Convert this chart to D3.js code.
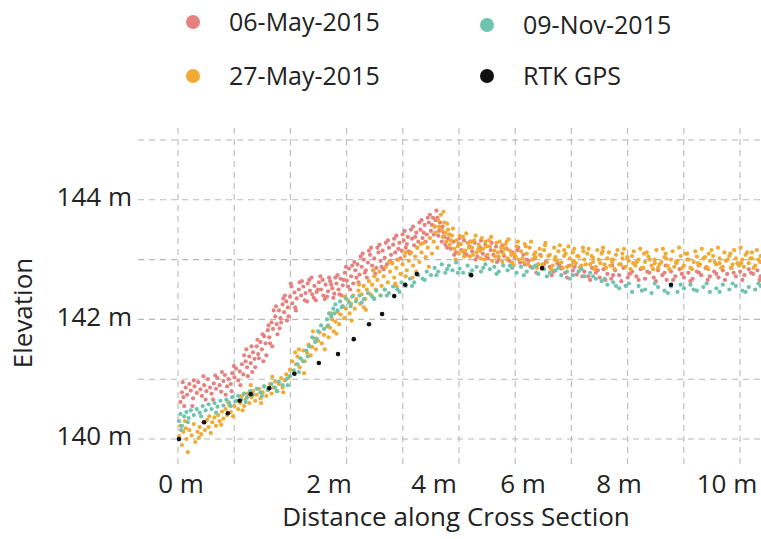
<!DOCTYPE html>
<html>
<head>
<meta charset="utf-8">
<script src="https://cdn.jsdelivr.net/npm/d3@7"></script>
<style>
  body { margin: 0; background: #fff; }
  text { font-family: "Open Sans", "Noto Sans", sans-serif; fill: #222; }
</style>
</head>
<body>
<svg id="chart" width="761" height="539"></svg>
<script>
// series names + colours
const seriesNames = ["06-May-2015", "27-May-2015", "09-Nov-2015", "RTK GPS"];
const seriesColors = ["#e5827f", "#f1aa33", "#6fc4b0", "#111111"];

// tick values
const xTicks = [0, 2, 4, 6, 8, 10];
const yTicks = [140, 142, 144];

// [distance (m), elevation (m)]
const may06 = [
  [0.02,140.62],[0.04,140.78],[0.06,140.7],[0.09,140.86],[0.11,140.74],[0.14,140.92],[0.16,140.81],[0.19,140.68],[0.21,140.88],[0.24,140.77],
  [0.26,140.95],[0.29,140.83],[0.31,140.72],[0.34,140.9],[0.37,140.8],[0.39,141.0],[0.42,140.86],[0.44,140.76],[0.47,140.93],[0.5,140.84],
  [0.52,141.02],[0.55,140.9],[0.57,140.79],[0.6,140.97],[0.62,141.07],[0.65,140.88],[0.67,141.0],[0.7,140.92],[0.72,141.1],[0.75,141.03],
  [0.77,141.18],[0.8,140.98],[0.82,141.13],[0.85,141.25],[0.87,141.08],[0.9,141.3],[0.92,141.2],[0.95,141.38],[0.97,141.27],[1.0,141.45],
  [1.02,141.34],[1.05,141.55],[1.07,141.42],[1.1,141.62],[1.12,141.5],[1.15,141.72],[1.17,141.6],[1.2,141.82],[1.22,141.7],[1.25,141.95],
  [1.27,141.84],[1.3,142.05],[1.32,141.92],[1.35,142.15],[1.37,142.02],[1.4,142.25],[1.42,142.12],[1.45,142.3],[1.47,142.2],[1.5,142.38],
  [1.53,142.27],[1.56,142.45],[1.59,142.35],[1.62,142.5],[1.65,142.4],[1.68,142.55],[1.71,142.44],[1.74,142.6],[1.77,142.48],[1.8,142.42],
  [1.83,142.56],[1.86,142.46],[1.89,142.62],[1.92,142.5],[1.95,142.4],[1.98,142.58],[2.02,142.47],[2.06,142.64],[2.1,142.52],[2.14,142.43],
  [2.18,142.6],[2.22,142.5],[2.26,142.68],[2.3,142.57],[2.34,142.78],[2.38,142.65],[2.42,142.85],[2.46,142.72],[2.5,142.6],[2.54,142.82],
  [2.58,142.92],[2.62,142.75],[2.66,142.88],[2.7,143.0],[2.74,142.82],[2.78,142.95],[2.82,143.08],[2.86,142.9],[2.9,143.02],[2.94,142.86],
  [2.98,143.12],[3.02,142.98],[3.06,143.15],[3.1,143.03],[3.14,142.92],[3.18,143.2],[3.22,143.08],[3.26,143.25],[3.3,143.12],[3.34,143.0],
  [3.38,143.28],[3.42,143.15],[3.46,143.32],[3.5,143.2],[3.54,143.38],[3.58,143.1],[3.62,143.35],[3.66,143.24],[3.7,143.45],[3.74,143.3],
  [3.78,143.5],[3.82,143.36],[3.86,143.58],[3.9,143.42],[3.94,143.62],[3.98,143.48],[4.02,143.7],[4.06,143.55],[4.1,143.82],[4.14,143.4],
  [4.18,143.62],[4.22,143.3],[4.26,143.45],[4.3,143.25],[4.36,143.35],[4.42,143.18],[4.48,143.3],[4.54,143.12],[4.6,143.26],[4.66,143.16],
  [4.72,143.32],[4.78,143.08],[4.84,143.22],[4.9,143.14],[4.96,143.28],[5.02,143.05],[5.08,143.2],[5.14,143.1],[5.2,143.25],[5.26,143.02],
  [5.32,143.16],[5.38,143.08],[5.44,143.22],[5.5,143.0],[5.56,143.14],[5.62,143.06],[5.68,143.18],[5.74,142.98],[5.8,143.12],[5.86,143.04],
  [5.92,143.16],[5.98,142.95],[6.05,143.08],[6.12,143.0],[6.2,142.88],[6.28,143.02],[6.36,142.92],[6.44,142.84],[6.52,142.97],[6.6,142.88],
  [6.68,142.8],[6.76,142.94],[6.84,142.85],[6.92,142.78],[7.0,142.9],[7.08,142.82],[7.16,142.75],[7.24,142.88],[7.32,142.8],[7.4,142.72],
  [7.48,142.86],[7.56,142.78],[7.64,142.7],[7.72,142.84],[7.8,142.76],[7.88,142.68],[7.96,142.82],[8.04,142.74],[8.12,142.86],[8.2,142.7],
  [8.28,142.8],[8.36,142.72],[8.44,142.84],[8.52,142.68],[8.6,142.78],[8.68,142.7],[8.76,142.82],[8.84,142.74],[8.92,142.66],[9.0,142.8],
  [9.08,142.72],[9.16,142.84],[9.24,142.7],[9.32,142.78],[9.4,142.68],[9.48,142.8],[9.56,142.74],[9.64,142.86],[9.72,142.72],[9.8,142.8],
  [9.88,142.7],[9.96,142.82],[10.04,142.76],[10.12,142.86],[10.2,142.72],[10.28,142.8],[10.36,142.74],[10.44,142.84],[10.52,142.76],[10.6,142.82],
  [10.66,142.72],
  [0.88,141.4],[0.93,141.05],[0.98,141.55],[1.03,141.2],[1.08,141.35],[1.13,141.75],[1.18,141.4],[1.23,141.6],[1.28,142.15],[1.33,141.75],
  [1.38,141.95],[1.43,142.4],[1.48,142.05],[1.52,142.55],[1.57,142.2],[1.63,142.62],[1.7,142.32],[1.76,142.66],[1.82,142.36],[1.88,142.5],
  [1.94,142.66],[2.0,142.38],[2.08,142.58],[2.16,142.7],[2.24,142.42],[2.32,142.66],[2.4,142.55],[2.48,142.9],[2.56,142.7],[2.64,143.05],
  [2.72,142.78],[2.8,143.15],[2.88,142.82],[2.96,143.2],[3.04,142.88],[3.12,143.28],[3.2,142.98],[3.28,143.35],[3.36,143.18],[3.44,143.42],
  [3.52,143.26],[3.6,143.5],[3.68,143.38],[3.76,143.62],[3.84,143.45],[3.92,143.7],[4.0,143.58],[4.08,143.66],[4.16,143.48],[4.24,143.55],
  [0.05,140.95],[0.18,140.55],[0.33,141.05],[0.46,140.66],[0.58,141.12],[0.71,140.8],[6.4,143.08],[7.1,142.96],[7.9,142.9],[8.9,142.9],
  [0.07,140.55],[0.2,140.98],[0.36,140.66],[0.49,141.06],[0.63,140.74],[0.74,141.22],[0.83,140.9],[0.91,141.5],[0.99,141.12],[1.06,141.66],
  [1.14,141.3],[1.21,141.9],[1.26,141.55],[1.31,142.22],[1.36,141.85],[1.41,142.35],[1.46,141.98],[1.51,142.6],[1.58,142.15],[1.66,142.64],
  [1.73,142.3],[1.79,142.7],[1.85,142.32],[1.91,142.72],[1.97,142.34],[2.04,142.7],[2.12,142.36],[2.2,142.74],[2.28,142.4],[2.36,142.88],
  [2.44,142.5],[2.52,142.96],[2.6,142.62],[2.68,143.1],[2.76,142.7],[2.84,143.2],[2.92,142.76],[3.0,143.25],[3.08,142.84],[3.16,143.32],
  [3.24,142.94],[3.32,143.4],[3.4,143.02],[3.48,143.48],[3.56,143.14],[3.64,143.55],[3.72,143.2],[3.8,143.66],[3.88,143.3],[3.96,143.75],
  [4.04,143.42],[4.12,143.7],[4.2,143.52],[4.28,143.38],[4.34,143.2],[4.4,143.42],[4.5,143.08],[4.62,143.36],[4.74,143.1],[4.86,143.3],
  [4.98,143.0],[5.1,143.32],[5.22,143.06],[5.34,143.28],[5.46,142.96],[5.58,143.24],[5.7,143.0],[5.82,142.9],[5.94,143.2],[6.08,142.92],
  [6.16,142.98],[6.32,142.78],[6.48,142.92],[6.64,142.74],[6.8,142.9],[6.96,142.7],[7.12,142.88],[7.28,142.72],[7.44,142.66],[7.6,142.82],
  [7.76,142.66],[7.92,142.74],[8.08,142.64],[8.24,142.76],[8.4,142.66],[8.56,142.8],[8.72,142.64],[8.88,142.78],[9.04,142.66],[9.2,142.76],
  [9.36,142.64],[9.52,142.78],[9.68,142.66],[9.84,142.76],[10.0,142.66],[10.16,142.78],[10.32,142.66],[10.48,142.78],[10.64,142.66]
];

const may27 = [
  [0.0,140.05],[0.02,140.22],[0.04,139.9],[0.06,140.12],[0.08,140.3],[0.1,140.0],[0.12,139.78],[0.14,140.15],[0.17,140.06],[0.2,140.25],
  [0.22,139.95],[0.25,140.12],[0.28,140.2],[0.3,140.08],[0.33,140.28],[0.35,140.15],[0.38,140.32],[0.4,140.2],[0.43,140.1],[0.45,140.28],
  [0.48,140.36],[0.5,140.22],[0.53,140.4],[0.55,140.3],[0.58,140.46],[0.6,140.34],[0.63,140.5],[0.65,140.4],[0.68,140.56],[0.7,140.45],
  [0.73,140.38],[0.75,140.55],[0.78,140.64],[0.8,140.5],[0.83,140.6],[0.85,140.72],[0.88,140.55],[0.9,140.66],[0.93,140.76],[0.95,140.6],
  [0.98,140.7],[1.0,140.8],[1.03,140.64],[1.05,140.74],[1.08,140.84],[1.1,140.68],[1.13,140.78],[1.15,140.88],[1.18,140.72],[1.2,140.82],
  [1.23,140.92],[1.25,140.76],[1.28,140.86],[1.3,140.96],[1.33,140.8],[1.35,140.92],[1.38,141.02],[1.4,140.86],[1.43,140.98],[1.45,141.08],
  [1.48,141.02],[1.5,141.16],[1.53,141.3],[1.55,141.1],[1.58,141.25],[1.6,141.38],[1.63,141.2],[1.65,141.34],[1.68,141.48],[1.7,141.3],
  [1.73,141.44],[1.75,141.58],[1.78,141.4],[1.8,141.54],[1.83,141.68],[1.85,141.5],[1.88,141.64],[1.9,141.78],[1.93,141.6],[1.96,141.74],
  [2.0,141.88],[2.03,141.7],[2.06,141.86],[2.1,142.0],[2.13,141.8],[2.16,141.96],[2.2,142.12],[2.23,141.92],[2.26,142.08],[2.3,142.22],
  [2.33,142.02],[2.36,142.18],[2.4,142.32],[2.43,142.1],[2.46,142.26],[2.5,142.4],[2.53,142.18],[2.56,142.34],[2.6,142.48],[2.63,142.26],
  [2.66,142.42],[2.7,142.56],[2.73,142.34],[2.76,142.5],[2.8,142.64],[2.83,142.42],[2.86,142.58],[2.9,142.72],[2.93,142.5],[2.96,142.66],
  [3.0,142.8],[3.04,142.56],[3.08,142.72],[3.12,142.88],[3.16,142.62],[3.2,142.8],[3.24,142.94],[3.28,142.7],[3.32,142.86],[3.36,143.0],
  [3.4,142.76],[3.44,142.92],[3.48,143.06],[3.52,142.82],[3.56,142.98],[3.6,143.12],[3.64,142.9],[3.68,143.05],[3.72,143.2],[3.76,142.96],
  [3.8,143.12],[3.84,143.28],[3.88,143.04],[3.92,143.2],[3.96,143.36],[4.0,143.1],[4.04,143.3],[4.08,143.45],[4.12,143.2],[4.16,143.55],
  [4.2,143.75],[4.24,143.38],[4.28,143.62],[4.32,143.3],[4.36,143.5],[4.4,143.25],[4.45,143.4],[4.5,143.18],[4.55,143.32],[4.6,143.1],
  [4.65,143.26],[4.7,143.38],[4.75,143.15],[4.8,143.28],[4.85,143.05],[4.9,143.2],[4.95,143.32],[5.0,143.12],[5.05,143.25],[5.1,143.02],
  [5.15,143.18],[5.2,143.3],[5.25,143.08],[5.3,143.22],[5.35,142.98],[5.4,143.15],[5.45,143.28],[5.5,143.05],[5.55,143.2],[5.6,143.1],
  [5.65,143.25],[5.7,143.02],[5.75,143.15],[5.8,142.95],[5.85,143.1],[5.9,143.22],[5.95,143.0],[6.0,143.14],[6.06,142.95],[6.12,143.1],
  [6.18,143.2],[6.24,143.0],[6.3,143.12],[6.36,142.92],[6.42,143.06],[6.48,143.16],[6.54,142.96],[6.6,143.08],[6.66,142.9],[6.72,143.04],
  [6.78,143.14],[6.84,142.95],[6.9,143.06],[6.96,142.88],[7.02,143.02],[7.08,143.12],[7.14,142.94],[7.2,143.05],[7.26,142.9],[7.32,143.0],
  [7.38,143.1],[7.44,142.92],[7.5,143.03],[7.56,142.88],[7.62,143.0],[7.68,143.1],[7.74,142.92],[7.8,143.02],[7.86,142.9],[7.92,143.0],
  [7.98,143.08],[8.04,142.92],[8.1,143.02],[8.16,142.88],[8.22,142.98],[8.28,143.06],[8.34,142.9],[8.4,143.0],[8.46,142.86],[8.52,142.96],
  [8.58,143.05],[8.64,142.9],[8.7,143.0],[8.76,142.86],[8.82,142.96],[8.88,143.04],[8.94,142.9],[9.0,143.0],[9.06,142.88],[9.12,142.98],
  [9.18,143.06],[9.24,142.9],[9.3,143.0],[9.36,142.86],[9.42,142.96],[9.48,143.05],[9.54,142.92],[9.6,143.02],[9.66,142.88],[9.72,142.98],
  [9.78,143.06],[9.84,142.92],[9.9,143.02],[9.96,142.88],[10.02,142.98],[10.08,143.06],[10.14,142.92],[10.2,143.02],[10.26,142.9],[10.32,143.0],
  [10.38,143.08],[10.44,142.94],[10.5,143.02],[10.56,142.9],[10.62,143.0],[10.66,143.06],
  [4.3,143.45],[4.42,143.32],[4.58,143.22],[4.72,143.05],[4.88,143.3],[5.08,143.15],[5.28,143.32],[5.48,143.12],[5.68,143.3],[5.88,143.05],
  [6.1,143.22],[6.3,143.04],[6.5,143.24],[6.7,143.0],[6.9,143.16],[7.1,142.98],[7.3,143.14],[7.5,142.96],[7.7,143.14],[7.9,142.96],
  [8.1,143.1],[8.3,142.94],[8.5,143.1],[8.7,142.94],[8.9,143.1],[9.1,142.94],[9.3,143.1],[9.5,142.94],[9.7,143.1],[9.9,142.94],
  [10.1,143.1],[10.3,142.94],[10.5,143.12],[2.7,142.2],[2.9,142.35],[3.1,142.5],[3.3,142.6],[3.5,142.72],[3.7,142.8],[1.62,141.5],
  [0.09,140.18],[0.27,140.02],[0.41,140.38],[0.57,140.24],[0.66,140.62],[0.86,140.48],[0.97,140.9],[1.11,140.6],[1.26,141.04],[1.41,140.78],
  [1.57,141.45],[1.69,141.1],[1.81,141.8],[1.97,141.5],[2.08,142.1],[2.18,141.76],[2.34,142.38],[2.47,141.98],[2.61,142.58],[2.74,142.16],
  [2.88,142.82],[3.02,142.4],[3.18,142.96],[3.33,142.55],[3.5,143.12],[3.63,142.7],[3.79,143.26],[3.94,142.88],[4.06,143.55],[4.14,143.66],
  [4.22,143.5],[4.26,143.8],[4.34,143.6],[4.38,143.42],[4.47,143.52],[4.53,143.0],[4.62,143.4],[4.68,143.14],[4.77,143.44],[4.83,143.2],
  [4.92,143.08],[4.98,143.4],[5.04,143.18],[5.12,143.36],[5.18,143.0],[5.23,143.22],[5.33,143.38],[5.42,143.05],[5.52,143.3],[5.58,142.96],
  [5.63,143.18],[5.72,143.34],[5.78,143.08],[5.83,142.9],[5.93,143.3],[6.03,143.02],[6.08,143.26],[6.15,142.92],[6.21,143.3],[6.27,143.08],
  [6.33,142.86],[6.39,143.18],[6.45,142.92],[6.51,143.28],[6.57,143.06],[6.63,142.84],[6.69,143.2],[6.75,142.98],[6.81,143.24],[6.87,142.86],
  [6.93,143.1],[6.99,143.22],[7.05,142.9],[7.11,143.18],[7.17,143.06],[7.23,142.86],[7.29,143.2],[7.35,142.92],[7.41,143.18],[7.47,143.06],
  [7.53,142.84],[7.59,143.16],[7.65,142.94],[7.71,143.2],[7.77,142.86],[7.83,143.12],[7.89,143.0],[7.95,142.84],[8.01,143.16],[8.07,142.92],
  [8.13,143.18],[8.19,143.04],[8.25,142.84],[8.31,143.14],[8.37,142.96],[8.43,143.18],[8.49,142.86],[8.55,143.12],[8.61,143.0],[8.67,142.84],
  [8.73,143.16],[8.79,142.92],[8.85,143.18],[8.91,143.02],[8.97,142.84],[9.03,143.14],[9.09,142.96],[9.15,143.2],[9.21,142.86],[9.27,143.1],
  [9.33,143.0],[9.39,142.84],[9.45,143.14],[9.51,142.9],[9.57,143.18],[9.63,143.04],[9.69,142.84],[9.75,143.16],[9.81,142.96],[9.87,143.2],
  [9.93,142.86],[9.99,143.12],[10.05,143.0],[10.11,142.86],[10.17,143.16],[10.23,142.94],[10.29,143.2],[10.35,142.88],[10.41,143.12],[10.47,143.02],
  [10.53,142.86],[10.59,143.16],[10.65,142.96]
];

const nov09 = [
  [0.0,140.3],[0.02,140.42],[0.04,140.22],[0.07,140.38],[0.1,140.45],[0.13,140.35],[0.16,140.48],[0.2,140.4],[0.24,140.5],[0.28,140.44],
  [0.32,140.55],[0.36,140.48],[0.4,140.58],[0.44,140.5],[0.48,140.6],[0.52,140.54],[0.56,140.64],[0.6,140.56],[0.64,140.66],[0.68,140.6],
  [0.72,140.7],[0.76,140.63],[0.8,140.72],[0.84,140.66],[0.88,140.76],[0.92,140.7],[0.96,140.8],[1.0,140.74],[1.05,140.84],[1.1,140.78],
  [1.15,140.88],[1.2,140.82],[1.25,140.92],[1.3,140.86],[1.35,140.96],[1.4,140.9],[1.45,141.0],[1.5,141.05],[1.55,141.15],[1.6,141.25],
  [1.64,141.35],[1.68,141.3],[1.72,141.48],[1.76,141.55],[1.8,141.7],[1.84,141.62],[1.88,141.8],[1.92,141.9],[1.96,141.84],[2.0,142.0],
  [2.04,142.1],[2.08,142.05],[2.12,142.18],[2.16,142.25],[2.2,142.15],[2.25,142.3],[2.3,142.22],[2.36,142.35],[2.42,142.28],[2.48,142.38],
  [2.55,142.3],[2.62,142.4],[2.7,142.34],[2.78,142.44],[2.86,142.38],[2.94,142.48],[3.02,142.4],[3.1,142.5],[3.18,142.44],[3.26,142.55],
  [3.34,142.5],[3.42,142.62],[3.5,142.56],[3.58,142.68],[3.66,142.62],[3.74,142.74],[3.82,142.68],[3.9,142.8],[3.98,142.74],[4.06,142.86],
  [4.14,142.8],[4.22,142.92],[4.3,142.78],[4.38,142.9],[4.46,142.82],[4.54,142.95],[4.62,142.85],[4.7,142.78],[4.8,142.9],[4.9,142.82],
  [5.0,142.88],[5.1,142.8],[5.2,142.92],[5.3,142.84],[5.4,142.88],[5.5,142.8],[5.6,142.9],[5.7,142.82],[5.8,142.86],[5.9,142.78],
  [6.0,142.88],[6.12,142.8],[6.24,142.86],[6.36,142.76],[6.48,142.84],[6.6,142.78],[6.72,142.82],[6.84,142.74],[6.96,142.8],[7.08,142.74],
  [7.2,142.8],[7.32,142.72],[7.44,142.78],[7.56,142.68],[7.68,142.64],[7.8,142.58],[7.92,142.62],[8.04,142.52],[8.16,142.56],[8.28,142.46],
  [8.4,142.56],[8.52,142.5],[8.64,142.44],[8.76,142.54],[8.88,142.48],[9.0,142.55],[9.12,142.46],[9.24,142.52],[9.36,142.58],[9.48,142.48],
  [9.6,142.54],[9.72,142.46],[9.84,142.52],[9.96,142.58],[10.08,142.5],[10.2,142.56],[10.32,142.48],[10.44,142.54],[10.56,142.5],[10.66,142.56],
  [0.03,140.15],[0.12,140.28],[0.3,140.38],[0.5,140.44],[0.7,140.55],[0.9,140.62],[1.12,140.72],[1.32,140.8],[1.47,140.9],[1.62,141.12],
  [1.74,141.38],[1.86,141.68],[2.02,141.9],[2.14,142.1],[2.28,142.2],[2.45,142.22],[2.66,142.28],[2.9,142.34],[3.14,142.4],[3.38,142.46],
  [3.62,142.56],[3.86,142.66],[4.1,142.74],[4.34,142.84],[4.58,142.78],[4.85,142.76],[5.15,142.86],[5.45,142.76],[5.75,142.9],[6.06,142.74],
  [6.3,142.9],[6.54,142.72],[6.78,142.86],[7.02,142.68],[7.26,142.84],[7.5,142.72],[7.74,142.68],[7.98,142.56],[8.22,142.6],[8.46,142.48],
  [8.7,142.6],[8.94,142.44],[9.18,142.58],[9.42,142.5],[9.66,142.6],[9.9,142.46],[10.14,142.6],[10.38,142.46],[10.62,142.6]
];

const rtk = [
  [0.0,140.0],[0.34,140.28],[0.66,140.43],[0.82,140.64],[0.97,140.75],[1.22,140.85],[1.56,141.09],[1.89,141.27],[2.21,141.42],
  [2.51,141.67],[2.8,141.92],[3.05,142.09],[3.28,142.39],[3.49,142.58],[3.71,142.76],[4.88,142.74],[6.44,142.86],[9.0,142.58]
];

const seriesData = [may06, may27, nov09, rtk];

const svg = d3.select("#chart");

// axis labels on the source figure are unevenly spaced, so x is piecewise linear
const x = d3.scaleLinear().domain(xTicks).range([179, 327, 432, 521, 617, 725]);
const y = d3.scaleLinear().domain([140, 145]).range([439, 140]);
// grid on the source is a regular lattice, independent of the labels
const gridX = d3.scaleLinear().domain([0, 10]).range([178, 740]);

// grid
const grid = svg.append("g")
    .attr("stroke", "#b8b8b8")
    .attr("stroke-width", 1.1)
    .attr("stroke-dasharray", "6,5");

grid.selectAll("line.h")
    .data(y.ticks(5))
    .join("line")
    .attr("class", "h")
    .attr("x1", 138).attr("x2", 761)
    .attr("y1", d => y(d)).attr("y2", d => y(d));

grid.selectAll("line.v")
    .data(gridX.ticks(10))
    .join("line")
    .attr("class", "v")
    .attr("y1", 128).attr("y2", 464)
    .attr("x1", d => gridX(d)).attr("x2", d => gridX(d));

// points
seriesData.forEach((pts, i) => {
    svg.append("g")
        .attr("fill", seriesColors[i])
        .selectAll("circle")
        .data(pts)
        .join("circle")
        .attr("cx", d => x(d[0]))
        .attr("cy", d => y(d[1]))
        .attr("r", i == 3 ? 2.3 : 2.1);
});

// y tick labels
svg.append("g")
    .selectAll("text")
    .data(yTicks)
    .join("text")
    .attr("x", 132)
    .attr("y", d => y(d) - 3)
    .attr("dy", "0.35em")
    .attr("text-anchor", "end")
    .attr("font-size", 26)
    .text(d => d + " m");

// x tick labels
svg.append("g")
    .selectAll("text")
    .data(xTicks)
    .join("text")
    .attr("x", d => x(d) + 2)
    .attr("y", 493)
    .attr("text-anchor", "middle")
    .attr("font-size", 26)
    .text(d => d + " m");

// axis titles
svg.append("text")
    .attr("transform", "translate(32,313) rotate(-90)")
    .attr("text-anchor", "middle")
    .attr("font-size", 26)
    .text("Elevation");

svg.append("text")
    .attr("x", 456)
    .attr("y", 526)
    .attr("text-anchor", "middle")
    .attr("font-size", 26)
    .text("Distance along Cross Section");

// legend, two columns
const legendPos = [[193, 22], [193, 76], [487, 25], [487, 76]];
const legendOrder = [0, 1, 2, 3];
const legend = svg.append("g")
    .selectAll("g")
    .data(legendOrder)
    .join("g")
    .attr("transform", i => `translate(${legendPos[i][0]},${legendPos[i][1]})`);

legend.append("circle")
    .attr("r", 7)
    .attr("fill", i => seriesColors[i]);

legend.append("text")
    .attr("x", 36)
    .attr("dy", "0.35em")
    .attr("font-size", 25)
    .text(i => seriesNames[i]);
</script>
</body>
</html>
